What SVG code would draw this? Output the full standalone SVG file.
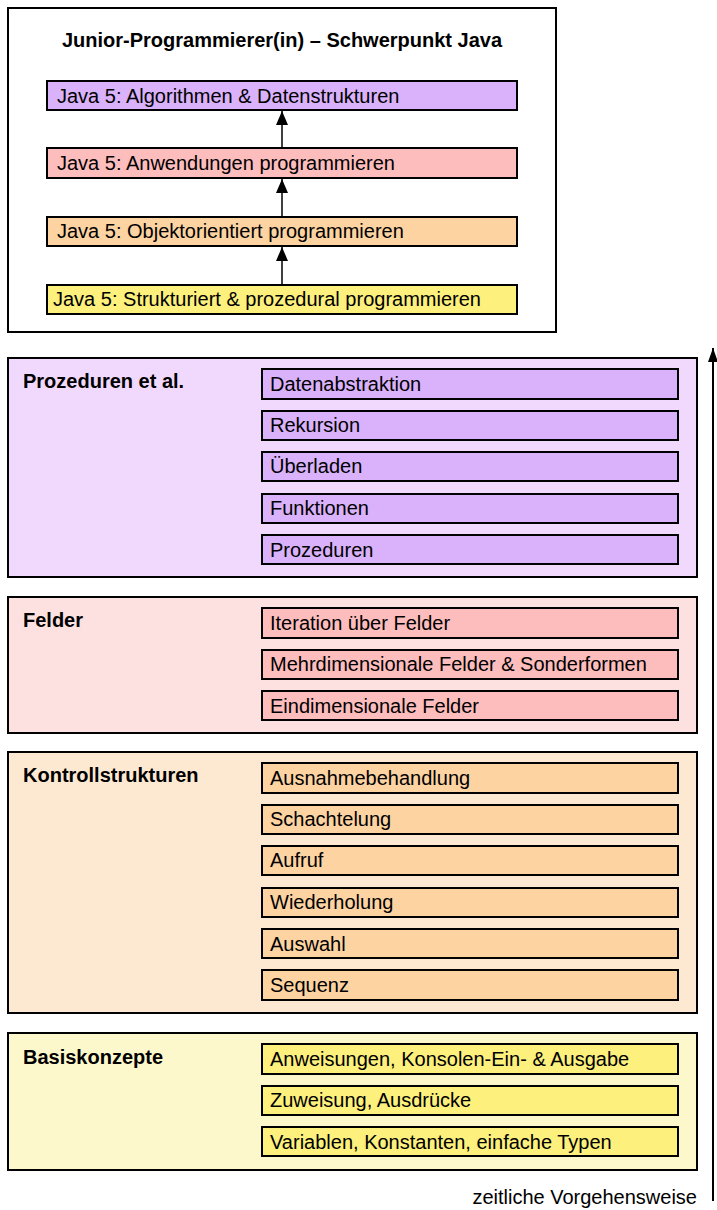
<svg xmlns="http://www.w3.org/2000/svg" width="717" height="1210" viewBox="0 0 717 1210">
<style>
text{font-family:"Liberation Sans",Arial,sans-serif;fill:#000}
.t{font-size:20px}
.h{font-size:20px;font-weight:bold}
.ttl{font-size:20px;font-weight:bold}
.b{stroke:#000;stroke-width:2}
.pu{fill:#d9b2fb}.puBg{fill:#f1d9fd}
.pk{fill:#fdbdbd}.pkBg{fill:#fde0e0}
.or{fill:#fdd3a2}.orBg{fill:#fde9d2}
.ye{fill:#fdf07c}.yeBg{fill:#fdf8cc}
</style>
<defs>
<marker id="ah" viewBox="0 0 14 12" refX="14" refY="6" markerWidth="14" markerHeight="12" markerUnits="userSpaceOnUse" orient="auto">
<path d="M0,0 L14,6 L0,12 z" fill="#000"/>
</marker>
<marker id="ah2" viewBox="0 0 14 10" refX="14" refY="5" markerWidth="14" markerHeight="10" markerUnits="userSpaceOnUse" orient="auto">
<path d="M0,0 L14,5 L0,10 z" fill="#000"/>
</marker>
</defs>
<g id="overview">
<rect x="8" y="8" width="548" height="324" fill="#fff" class="b"/>
<text class="ttl" x="282" y="47" text-anchor="middle">Junior-Programmierer(in) – Schwerpunkt Java</text>
</g>
<g id="java-algo"><rect x="47" y="81" width="470" height="29" class="b pu"/><text class="t" x="57" y="103">Java 5: Algorithmen &amp; Datenstrukturen</text></g>
<g id="java-anw"><rect x="47" y="148" width="470" height="30" class="b pk"/><text class="t" x="57" y="170">Java 5: Anwendungen programmieren</text></g>
<g id="java-oo"><rect x="47" y="217" width="470" height="29" class="b or"/><text class="t" x="57" y="238">Java 5: Objektorientiert programmieren</text></g>
<g id="java-struct"><rect x="47" y="285" width="470" height="29" class="b ye"/><text class="t" x="53" y="306">Java 5: Strukturiert &amp; prozedural programmieren</text></g>

<g id="sec-proz">
<rect x="8" y="358" width="689" height="219" class="b puBg"/>
<text class="h" x="23" y="388">Prozeduren et al.</text>
<rect x="262" y="369" width="416" height="30" class="b pu"/><text class="t" x="270" y="391">Datenabstraktion</text>
<rect x="262" y="411" width="416" height="29" class="b pu"/><text class="t" x="270" y="432">Rekursion</text>
<rect x="262" y="452" width="416" height="29" class="b pu"/><text class="t" x="270" y="473">Überladen</text>
<rect x="262" y="494" width="416" height="29" class="b pu"/><text class="t" x="270" y="515">Funktionen</text>
<rect x="262" y="535" width="416" height="29" class="b pu"/><text class="t" x="270" y="557">Prozeduren</text>
</g>
<g id="sec-felder">
<rect x="8" y="597" width="689" height="136" class="b pkBg"/>
<text class="h" x="23" y="627">Felder</text>
<rect x="262" y="608" width="416" height="30" class="b pk"/><text class="t" x="270" y="630">Iteration über Felder</text>
<rect x="262" y="650" width="416" height="29" class="b pk"/><text class="t" x="270" y="671">Mehrdimensionale Felder &amp; Sonderformen</text>
<rect x="262" y="691" width="416" height="29" class="b pk"/><text class="t" x="270" y="713">Eindimensionale Felder</text>
</g>
<g id="sec-kontroll">
<rect x="8" y="752" width="689" height="261" class="b orBg"/>
<text class="h" x="23" y="782">Kontrollstrukturen</text>
<rect x="262" y="763" width="416" height="30" class="b or"/><text class="t" x="270" y="785">Ausnahmebehandlung</text>
<rect x="262" y="805" width="416" height="29" class="b or"/><text class="t" x="270" y="826">Schachtelung</text>
<rect x="262" y="846" width="416" height="29" class="b or"/><text class="t" x="270" y="867">Aufruf</text>
<rect x="262" y="888" width="416" height="29" class="b or"/><text class="t" x="270" y="909">Wiederholung</text>
<rect x="262" y="929" width="416" height="29" class="b or"/><text class="t" x="270" y="951">Auswahl</text>
<rect x="262" y="970" width="416" height="30" class="b or"/><text class="t" x="270" y="992">Sequenz</text>
</g>
<g id="sec-basis">
<rect x="8" y="1033" width="689" height="137" class="b yeBg"/>
<text class="h" x="23" y="1064">Basiskonzepte</text>
<rect x="262" y="1044" width="416" height="30" class="b ye"/><text class="t" x="270" y="1066">Anweisungen, Konsolen-Ein- &amp; Ausgabe</text>
<rect x="262" y="1086" width="416" height="29" class="b ye"/><text class="t" x="270" y="1107">Zuweisung, Ausdrücke</text>
<rect x="262" y="1127" width="416" height="29" class="b ye"/><text class="t" x="270" y="1149">Variablen, Konstanten, einfache Typen</text>
</g>
<g id="connectors" stroke="#000" fill="none" stroke-width="1.5">
<line x1="282" y1="285" x2="282" y2="247" marker-end="url(#ah)"/>
<line x1="282" y1="217" x2="282" y2="179" marker-end="url(#ah)"/>
<line x1="282" y1="148" x2="282" y2="111" marker-end="url(#ah)"/>
<line x1="713" y1="1201" x2="713" y2="348" stroke-width="2" marker-end="url(#ah2)"/>
</g>
<text id="time-label" class="t" x="697" y="1204" text-anchor="end">zeitliche Vorgehensweise</text>
</svg>
